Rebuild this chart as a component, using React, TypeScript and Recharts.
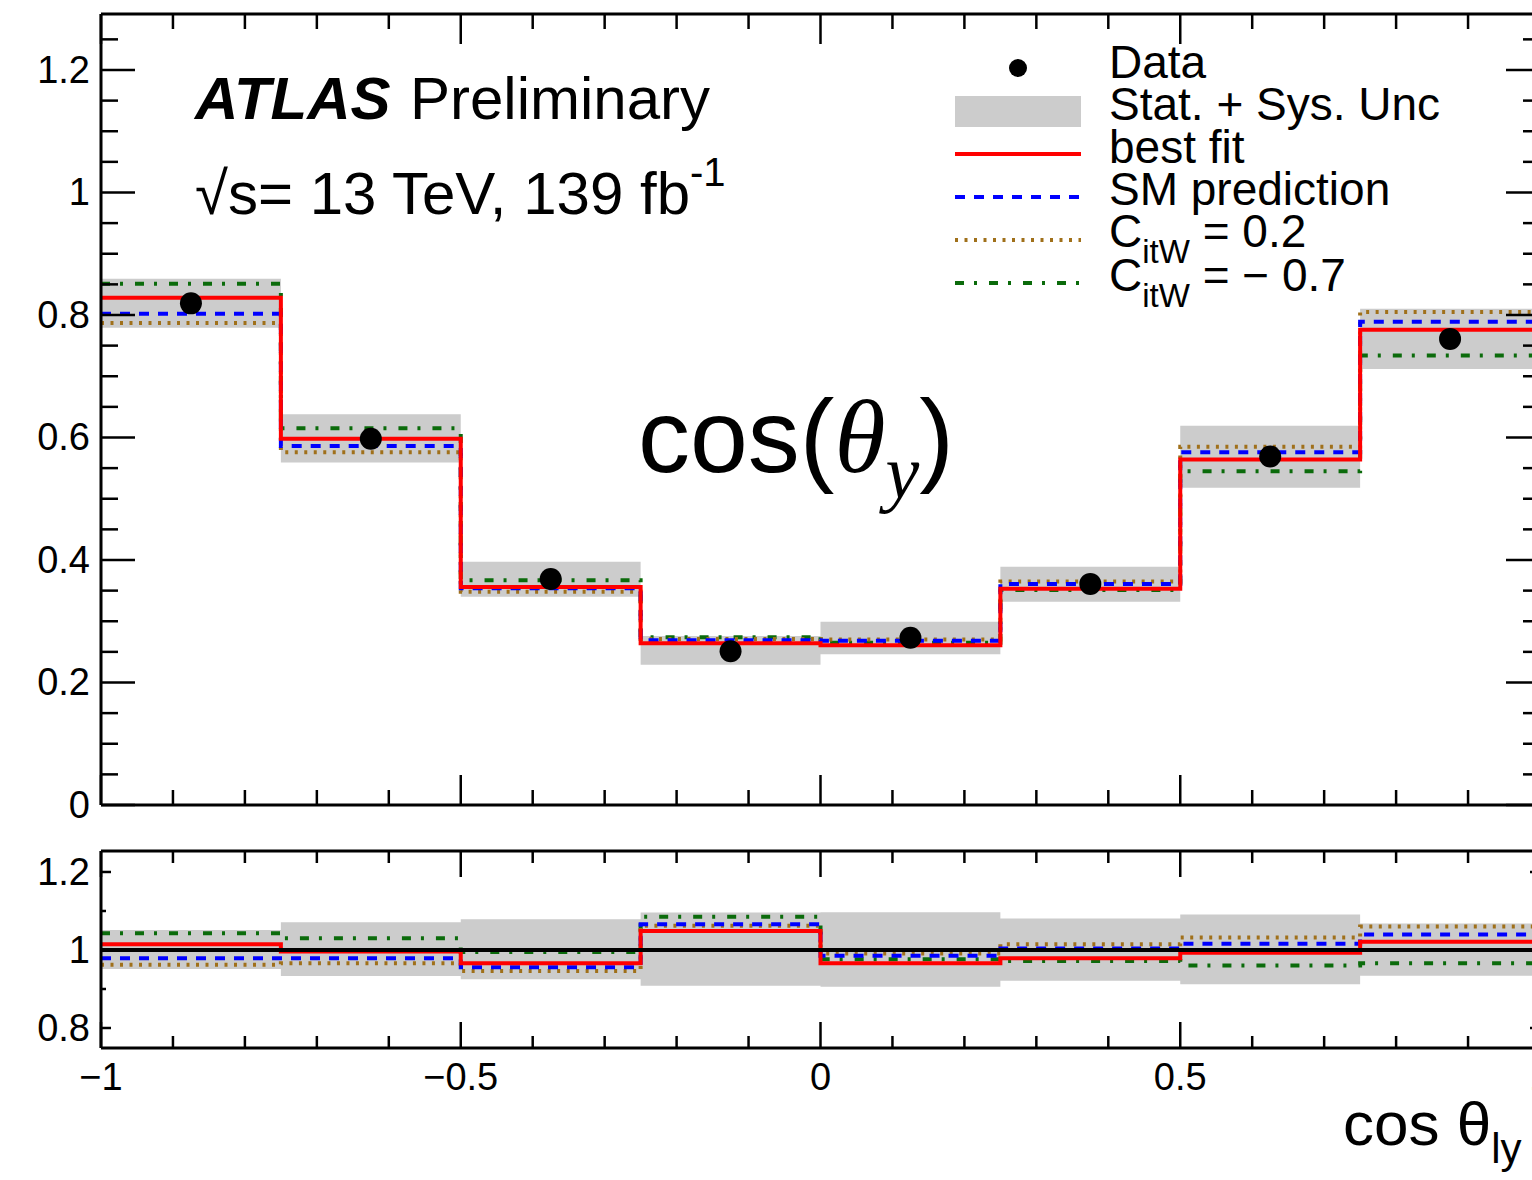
import React from "react";
import { ComposedChart, Line, Area, Scatter, XAxis, YAxis, ReferenceLine } from "recharts";

// bins in cos(theta_ly)
const binEdges = [-1, -0.75, -0.5, -0.25, 0, 0.25, 0.5, 0.75, 1];
const binCenters = [-0.875, -0.625, -0.375, -0.125, 0.125, 0.375, 0.625, 0.875];

// upper panel
const dataValues = [0.819, 0.598, 0.369, 0.251, 0.273, 0.361, 0.569, 0.761];
const uncLow = [0.779, 0.559, 0.34, 0.229, 0.246, 0.332, 0.518, 0.712];
const uncHigh = [0.859, 0.638, 0.397, 0.276, 0.299, 0.389, 0.619, 0.81];
const bestFit = [0.828, 0.598, 0.356, 0.264, 0.261, 0.353, 0.564, 0.776];
const smPrediction = [0.802, 0.586, 0.354, 0.269, 0.268, 0.361, 0.576, 0.789];
const citwPlus = [0.787, 0.576, 0.348, 0.271, 0.27, 0.365, 0.585, 0.805];
const citwMinus = [0.851, 0.615, 0.367, 0.274, 0.265, 0.351, 0.545, 0.734];

// ratio panel
const ratioUncLow = [0.951, 0.933, 0.925, 0.908, 0.906, 0.921, 0.912, 0.934];
const ratioUncHigh = [1.051, 1.071, 1.079, 1.096, 1.097, 1.081, 1.091, 1.068];
const ratioBestFit = [1.015, 0.996, 0.966, 1.049, 0.966, 0.979, 0.993, 1.021];
const ratioSm = [0.979, 0.979, 0.956, 1.066, 0.985, 1.004, 1.016, 1.04];
const ratioPlus = [0.962, 0.966, 0.946, 1.062, 0.991, 1.015, 1.032, 1.06];
const ratioMinus = [1.043, 1.03, 0.995, 1.085, 0.976, 0.972, 0.96, 0.966];

// tick positions
const xTicks = [-1, -0.9, -0.8, -0.7, -0.6, -0.5, -0.4, -0.3, -0.2, -0.1, 0, 0.1, 0.2, 0.3, 0.4, 0.5, 0.6, 0.7, 0.8, 0.9, 1];
const yTicksTop = [0, 0.05, 0.1, 0.15, 0.2, 0.25, 0.3, 0.35, 0.4, 0.45, 0.5, 0.55, 0.6, 0.65, 0.7, 0.75, 0.8, 0.85, 0.9, 0.95, 1, 1.05, 1.1, 1.15, 1.2, 1.25];
const yTicksRatio = [0.8, 0.9, 1, 1.1, 1.2];

const FONT = "'Liberation Sans', Arial, Helvetica, sans-serif";
const SERIF = "'Liberation Serif', 'DejaVu Serif', serif";

const RED = "#ff0000";
const BLUE = "#0000ff";
const BROWN = "#a0701a";
const GREEN = "#0b6b0b";
const BAND = "#cccccc";

function stepRows(lo: number[], hi: number[], bf: number[], sm: number[], plus: number[], minus: number[]) {
  return binEdges.map((x, i) => {
    const j = Math.min(i, bf.length - 1);
    return { x, lo: lo[j], hi: hi[j], bf: bf[j], sm: sm[j], plus: plus[j], minus: minus[j] };
  });
}

const topRows = stepRows(uncLow, uncHigh, bestFit, smPrediction, citwPlus, citwMinus);
const ratioRows = stepRows(ratioUncLow, ratioUncHigh, ratioBestFit, ratioSm, ratioPlus, ratioMinus);
const points = binCenters.map((x, i) => ({ x, y: dataValues[i] }));

function fmt(v: number) {
  const s = String(Number(v.toFixed(2)));
  return s.replace("-", "\u2212");
}

function isMajor(v: number, step: number) {
  const r = v / step;
  return Math.abs(r - Math.round(r)) < 1e-6;
}

function makeTick(side: string, step: number, majorLen: number, minorLen: number, label: boolean) {
  return (props: any) => {
    const { x, y, payload } = props;
    const v = payload.value as number;
    const major = isMajor(v, step);
    const len = major ? majorLen : minorLen;
    let x2 = x;
    let y2 = y;
    if (side === "left") x2 = x + len;
    if (side === "right") x2 = x - len;
    if (side === "bottom") y2 = y - len;
    if (side === "top") y2 = y + len;
    return (
      <g>
        <line x1={x} y1={y} x2={x2} y2={y2} stroke="#000" strokeWidth={2.5} />
        {label && major && side === "left" && (
          <text x={x - 11} y={y + 13} textAnchor="end" fontSize={38} fontFamily={FONT} fill="#000">
            {fmt(v)}
          </text>
        )}
        {label && major && side === "bottom" && (
          <text x={x} y={y + 42} textAnchor="middle" fontSize={38} fontFamily={FONT} fill="#000">
            {fmt(v)}
          </text>
        )}
      </g>
    );
  };
}

const frame = { stroke: "#000", strokeWidth: 3 };

function lines() {
  return [
    <Line key="minus" dataKey="minus" type="stepAfter" stroke={GREEN} strokeWidth={4} strokeDasharray="9 10 3 12" dot={false} activeDot={false} isAnimationActive={false} />,
    <Line key="plus" dataKey="plus" type="stepAfter" stroke={BROWN} strokeWidth={4} strokeDasharray="3 6.5" dot={false} activeDot={false} isAnimationActive={false} />,
    <Line key="sm" dataKey="sm" type="stepAfter" stroke={BLUE} strokeWidth={4} strokeDasharray="10 9" dot={false} activeDot={false} isAnimationActive={false} />,
    <Line key="bf" dataKey="bf" type="stepAfter" stroke={RED} strokeWidth={4} dot={false} activeDot={false} isAnimationActive={false} />,
  ];
}

function TopPanel() {
  return (
    <ComposedChart width={1545} height={820} data={topRows} margin={{ top: 13, right: 4, bottom: 14, left: 0 }}>
      <XAxis xAxisId={0} dataKey="x" type="number" domain={[-1, 1]} allowDataOverflow ticks={xTicks} interval={0} height={1} tickSize={0} tickMargin={0} tickLine={false} axisLine={frame} tick={makeTick("bottom", 0.5, 30, 15, false)} />
      <XAxis xAxisId="t" orientation="top" dataKey="x" type="number" domain={[-1, 1]} allowDataOverflow ticks={xTicks} interval={0} height={1} tickSize={0} tickMargin={0} tickLine={false} axisLine={frame} tick={makeTick("top", 0.5, 30, 15, false)} />
      <YAxis yAxisId={0} type="number" domain={[0, 1.2914]} allowDataOverflow ticks={yTicksTop} interval={0} width={101} tickSize={0} tickMargin={0} tickLine={false} axisLine={frame} tick={makeTick("left", 0.2, 34, 17, true)} />
      <YAxis yAxisId="r" orientation="right" type="number" domain={[0, 1.2914]} allowDataOverflow ticks={yTicksTop} interval={0} width={1} tickSize={0} tickMargin={0} tickLine={false} axisLine={frame} tick={makeTick("right", 0.2, 34, 17, false)} />
      <Area dataKey={(d: any) => [d.lo, d.hi]} type="stepAfter" fill={BAND} fillOpacity={1} stroke="none" isAnimationActive={false} activeDot={false} />
      {lines()}
      <Scatter data={points} dataKey="y" isAnimationActive={false} shape={(p: any) => <circle cx={p.cx} cy={p.cy} r={11} fill="#000" />} />
    </ComposedChart>
  );
}

function RatioPanel() {
  return (
    <ComposedChart width={1545} height={350} data={ratioRows} margin={{ top: 20, right: 4, bottom: 0, left: 0 }}>
      <XAxis xAxisId={0} dataKey="x" type="number" domain={[-1, 1]} allowDataOverflow ticks={xTicks} interval={0} height={132} tickSize={0} tickMargin={0} tickLine={false} axisLine={frame} tick={makeTick("bottom", 0.5, 26, 12, true)} />
      <XAxis xAxisId="t" orientation="top" dataKey="x" type="number" domain={[-1, 1]} allowDataOverflow ticks={xTicks} interval={0} height={1} tickSize={0} tickMargin={0} tickLine={false} axisLine={frame} tick={makeTick("top", 0.5, 26, 12, false)} />
      <YAxis yAxisId={0} type="number" domain={[0.7487, 1.2538]} allowDataOverflow ticks={yTicksRatio} interval={0} width={101} tickSize={0} tickMargin={0} tickLine={false} axisLine={frame} tick={makeTick("left", 0.2, 10, 5, true)} />
      <YAxis yAxisId="r" orientation="right" type="number" domain={[0.7487, 1.2538]} allowDataOverflow ticks={yTicksRatio} interval={0} width={1} tickSize={0} tickMargin={0} tickLine={false} axisLine={frame} tick={makeTick("right", 0.2, 10, 5, false)} />
      <Area dataKey={(d: any) => [d.lo, d.hi]} type="stepAfter" fill={BAND} fillOpacity={1} stroke="none" isAnimationActive={false} activeDot={false} />
      {lines()}
      <ReferenceLine y={1} stroke="#000" strokeWidth={4} />
    </ComposedChart>
  );
}

function Overlay() {
  const lx1 = 955;
  const lx2 = 1081;
  const tx = 1109;
  return (
    <svg width={1532} height={1180} style={{ position: "absolute", left: 0, top: 0, pointerEvents: "none" }}>
      <text x={195} y={119} fontSize={60} fontFamily={FONT} fontWeight="bold" fontStyle="italic" fill="#000">ATLAS</text>
      <text x={410} y={119} fontSize={60} fontFamily={FONT} fill="#000">Preliminary</text>
      <text x={195} y={214} fontSize={60} fontFamily={FONT} fill="#000">
        {"\u221As= 13 TeV, 139 fb"}
        <tspan fontSize={40} dy={-28}>-1</tspan>
      </text>
      <text x={638} y={472} fontSize={104} fontFamily={FONT} fill="#000">
        cos(
        <tspan fontFamily={SERIF} fontStyle="italic">θ</tspan>
        <tspan fontFamily={SERIF} fontStyle="italic" fontSize={76} dy={26}>y</tspan>
        <tspan dy={-26}>)</tspan>
      </text>

      {/* legend */}
      <circle cx={1018} cy={68} r={9} fill="#000" />
      <rect x={lx1} y={96} width={lx2 - lx1} height={31} fill={BAND} />
      <line x1={lx1} x2={lx2} y1={154} y2={154} stroke={RED} strokeWidth={4} />
      <line x1={lx1} x2={lx2} y1={197} y2={197} stroke={BLUE} strokeWidth={4} strokeDasharray="10 9" />
      <line x1={lx1} x2={lx2} y1={240} y2={240} stroke={BROWN} strokeWidth={4} strokeDasharray="3 6.5" />
      <line x1={lx1} x2={lx2} y1={283} y2={283} stroke={GREEN} strokeWidth={4} strokeDasharray="9 10 3 12" />
      <g fontFamily={FONT} fontSize={46} fill="#000">
        <text x={tx} y={78}>Data</text>
        <text x={tx} y={120}>Stat. + Sys. Unc</text>
        <text x={tx} y={163}>best fit</text>
        <text x={tx} y={205}>SM prediction</text>
        <text x={tx} y={247}>
          C<tspan fontSize={33} dy={16}>itW</tspan>
          <tspan dy={-16}>{" = 0.2"}</tspan>
        </text>
        <text x={tx} y={291}>
          C<tspan fontSize={33} dy={16}>itW</tspan>
          <tspan dy={-16}>{" = \u2212 0.7"}</tspan>
        </text>
      </g>

      {/* x axis title */}
      <text x={1343} y={1145} fontSize={62} fontFamily={FONT} fill="#000">
        {"cos θ"}
        <tspan fontSize={42} dy={18}>ly</tspan>
      </text>
    </svg>
  );
}

export default function App() {
  return (
    <div style={{ position: "fixed", left: 0, top: 0, width: 1532, height: 1180, overflow: "hidden", background: "#fff" }}>
      <div style={{ position: "absolute", left: 0, top: 0 }}>
        <TopPanel />
      </div>
      <div style={{ position: "absolute", left: 0, top: 830 }}>
        <RatioPanel />
      </div>
      <Overlay />
    </div>
  );
}
